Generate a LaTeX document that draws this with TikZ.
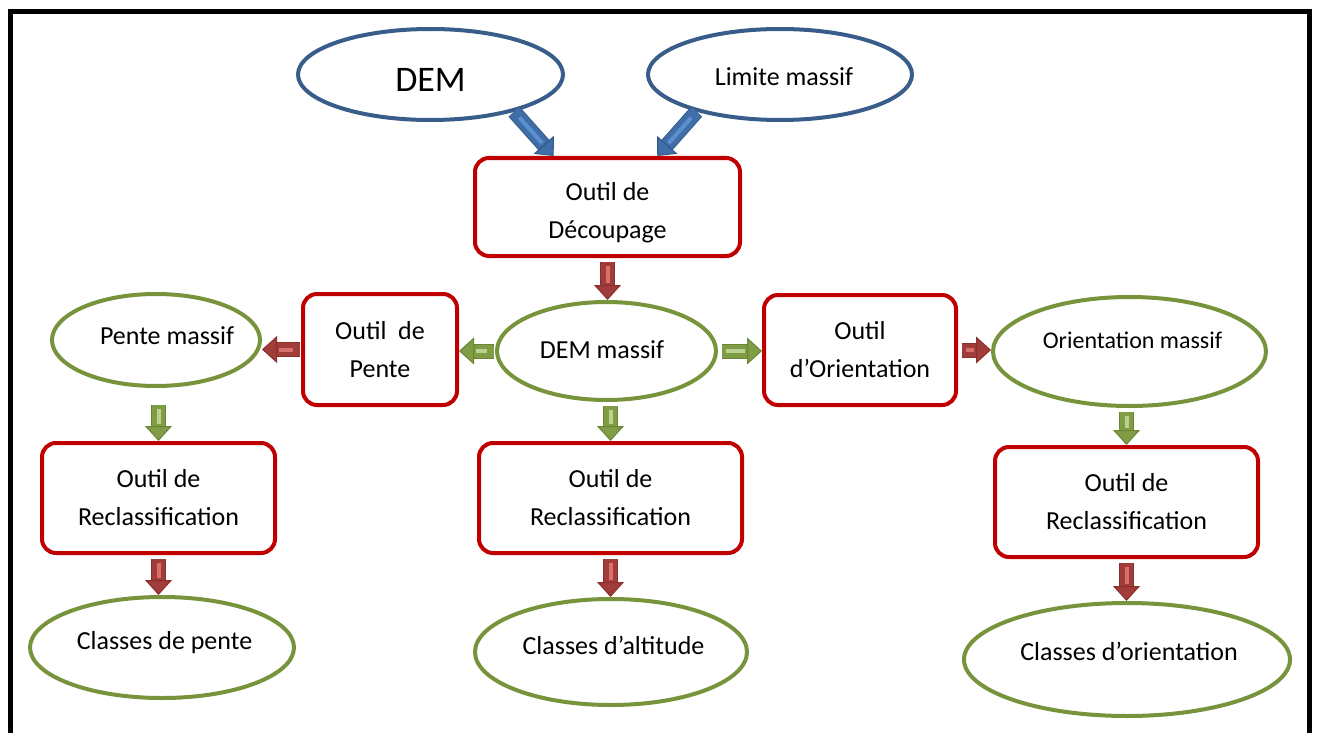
\documentclass[tikz,border=0pt]{standalone}
\usepackage{fontspec}
\setmainfont{Carlito}
\usetikzlibrary{shapes.geometric,arrows.meta,calc}
\definecolor{boxred}{HTML}{C00000}
\definecolor{ellgreen}{HTML}{77933C}
\definecolor{ellblue}{HTML}{385D8A}
\definecolor{arRed}{HTML}{A03C3A}
\definecolor{arRedL}{HTML}{D9706E}
\definecolor{arRedD}{HTML}{8B2F2D}
\definecolor{arGreen}{HTML}{7F9D45}
\definecolor{arGreenL}{HTML}{BBD28E}
\definecolor{arGreenD}{HTML}{6B8535}
\definecolor{arBlue}{HTML}{3F6EA8}
\definecolor{arBlueL}{HTML}{5B8FD0}
\definecolor{arBlueD}{HTML}{345A88}
\begin{document}
\begin{tikzpicture}[x=1pt,y=-1pt,
  redbox/.style={draw=boxred, line width=4pt, rounded corners=14pt, fill=white,
    align=center, inner sep=0pt, font=\fontsize{26}{38}\selectfont},
  greenell/.style={ellipse, draw=ellgreen, line width=4pt, inner sep=0pt},
  blueell/.style={ellipse, draw=ellblue, line width=4pt, inner sep=0pt},
  txt/.style={inner sep=0pt, align=center, font=\fontsize{26}{38}\selectfont},
  barrow/.style n args={3}{line width=13pt, draw=#1, shorten <=4pt,
    -{Triangle[length=15pt,width=27pt,color=#3,fill=#1,line width=1pt]},
    preaction={draw=#3, line width=15pt, shorten >=14pt, -},
    postaction={draw=#2, line width=4pt, shorten >=17pt, shorten <=8pt, -}},
  redar/.style={barrow={arRed}{arRedL}{arRedD}},
  greenar/.style={barrow={arGreen}{arGreenL}{arGreenD}},
  bluear/.style={barrow={arBlue}{arBlueL}{arBlueD}}
]
\useasboundingbox (0,0) rectangle (1317,733);
\draw[line width=5pt] (10.5,760) -- (10.5,11.5) -- (1309.5,11.5) -- (1309.5,760);

% top ellipses
\node[blueell, minimum width=265pt, minimum height=91pt] (dem) at (430.5,74.5) {};
\node[txt, font=\fontsize{36}{40}\selectfont] (demt) at (430.5,80) {DEM};
\node[blueell, minimum width=264pt, minimum height=91pt] (lim) at (780,74.5) {};
\node[txt] (limt) at (784,77) {Limite massif};

% boxes
\node[redbox, minimum width=265pt, minimum height=98pt] (dec) at (607.5,207) {};
\node[txt] (dect) at (607.5,213) {Outil de\\Découpage};
\node[redbox, minimum width=154pt, minimum height=111pt] (op) at (380,349.5) {Outil~ de\\Pente};
\node[redbox, minimum width=192pt, minimum height=110pt] (oo) at (860,350) {Outil\\d’Orientation};
\node[redbox, minimum width=233pt, minimum height=110pt] (r1) at (158.5,498) {Outil de\\Reclassification};
\node[redbox, minimum width=263pt, minimum height=110pt] (r2) at (610.5,498) {Outil de\\Reclassification};
\node[redbox, minimum width=263pt, minimum height=110pt] (r3) at (1126.5,502) {Outil de\\Reclassification};

% green ellipses
\node[greenell, minimum width=219pt, minimum height=98pt] (dm) at (606.5,351) {};
\node[txt] (dmt) at (602,350) {DEM massif};
\node[greenell, minimum width=208pt, minimum height=92pt] (pm) at (156,340) {};
\node[txt] (pmt) at (167,336) {Pente massif};
\node[greenell, minimum width=273pt, minimum height=109pt] (om) at (1129.5,351.5) {};
\node[txt, font=\fontsize{24}{30}\selectfont] (omt) at (1132.5,340) {Orientation massif};
\node[greenell, minimum width=264pt, minimum height=101pt] (cp) at (162,647.5) {};
\node[txt] (cpt) at (164.5,643) {Classes de pente};
\node[greenell, minimum width=272pt, minimum height=106pt] (ca) at (611,652) {};
\node[txt] (cat) at (613.5,645) {Classes d’altitude};
\node[greenell, minimum width=326pt, minimum height=113pt] (co) at (1127,659.5) {};
\node[txt] (cot) at (1129,651) {Classes d’orientation};

% connector anchor points
\coordinate (b1) at ($(dec.north west)!0.3!(dec.north east)$);
\coordinate (b2) at ($(dec.north west)!0.685!(dec.north east)$);
\coordinate (pms) at ($(pm.south -| r1.north)+(0,13)$);

% blue arrows
\draw[bluear, shorten <=0pt] (dem.-24) -- (b1);
\draw[bluear, shorten <=0pt] (lim.-156) -- (b2);

% arrows
\draw[redar] (dec.south) -- (dec.south |- dm.north);
\draw[greenar, shorten <=1pt] (dm.west) -- (dm.west -| op.east);
\draw[redar, shorten <=1pt] (op.west) -- (op.west -| pm.east);
\draw[greenar] (dm.east) -- (dm.east -| oo.west);
\draw[redar] (oo.east) -- (oo.east -| om.west);
\draw[greenar] (pms) -- (r1.north);
\draw[greenar] (dm.south -| r2.north) -- (r2.north);
\draw[greenar] (om.south -| r3.north) -- (r3.north);
\draw[redar] (r1.south) -- (r1.south |- cp.north);
\draw[redar] (r2.south) -- (r2.south |- ca.north);
\draw[redar] (r3.south) -- (r3.south |- co.north);
\end{tikzpicture}
\end{document}
